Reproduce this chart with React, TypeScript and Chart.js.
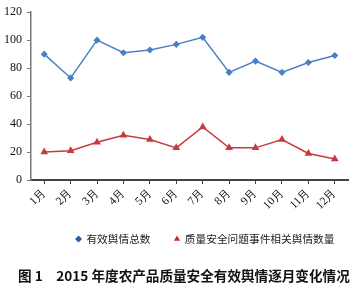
import React, { useEffect, useRef } from "react";
import { Chart, registerables } from "chart.js";
Chart.register(...registerables);

const months = ["1月", "2月", "3月", "4月", "5月", "6月", "7月", "8月", "9月", "10月", "11月", "12月"];
const totalSentiment = [90, 73, 100, 91, 93, 97, 102, 77, 85, 77, 84, 89];
const safetyIssues = [20, 21, 27, 32, 29, 23, 38, 23, 23, 29, 19, 15];
const seriesNames = ["有效舆情总数", "质量安全问题事件相关舆情数量"];
const figureTitle = "图 1　2015 年度农产品质量安全有效舆情逐月变化情况";
const yMax = 120;
const yStep = 20;

export default function App() {
  const ref = useRef<HTMLCanvasElement | null>(null);
  useEffect(() => {
    if (!ref.current) return;
    const blue = "#4a7fc6";
    const red = "#c63b3d";
    const legendColors = ["#2c5fae", "#d4212b"];
    const placeBoxes = {
      id: "placeBoxes",
      afterLayout(c: any) {
        if (c.titleBlock) {
          c.titleBlock.left = 18;
          c.titleBlock.right = 363;
        }
        if (c.legend) {
          c.legend.right = 358.5;
        }
      },
    };
    const chart = new Chart(ref.current, {
      type: "line",
      data: {
        labels: months,
        datasets: [
          {
            label: seriesNames[0],
            data: totalSentiment,
            borderColor: blue,
            backgroundColor: blue,
            borderWidth: 1.5,
            pointStyle: "rectRot",
            pointRadius: 2.5,
            tension: 0,
          },
          {
            label: seriesNames[1],
            data: safetyIssues,
            borderColor: red,
            backgroundColor: red,
            borderWidth: 1.5,
            pointStyle: "triangle",
            pointRadius: 3,
            tension: 0,
          },
        ],
      },
      plugins: [placeBoxes],
      options: {
        animation: false,
        responsive: false,
        layout: { padding: { left: 0, right: 15, top: 3, bottom: 0 } },
        plugins: {
          tooltip: { enabled: false },
          legend: {
            position: "bottom",
            align: "end",
            labels: {
              usePointStyle: true,
              boxWidth: 5,
              boxHeight: 5,
              padding: 24,
              color: "#222",
              font: { family: "'Noto Sans CJK SC', sans-serif", size: 10.7 },
              generateLabels: (c: any) =>
                (Chart.defaults.plugins.legend.labels.generateLabels as any)(c).map((l: any, i: number) => ({
                  ...l,
                  fillStyle: legendColors[i],
                  strokeStyle: legendColors[i],
                  lineWidth: 0,
                })),
            },
          },
          title: {
            display: true,
            position: "bottom",
            align: "start",
            text: figureTitle,
            color: "#111",
            padding: { top: 13.2, bottom: 5.1 },
            font: { family: "'Noto Sans CJK SC', sans-serif", size: 13.6, weight: "bold" },
          },
        },
        scales: {
          x: {
            offset: true,
            afterFit: (s: any) => {
              s.height = 29.65;
            },
            grid: { drawOnChartArea: false, drawTicks: true, tickLength: 4, color: "#444" },
            border: { color: "#444", width: 2 },
            ticks: {
              maxRotation: 45,
              minRotation: 45,
              color: "#111",
              padding: 2,
              font: { family: "'Liberation Serif', serif", size: 11.5 },
            },
          },
          y: {
            min: 0,
            max: yMax,
            afterFit: (s: any) => {
              s.width = 31;
            },
            grid: { drawOnChartArea: false, drawTicks: true, tickLength: 4, color: "#777" },
            border: { color: "#777", width: 1.5 },
            ticks: {
              stepSize: yStep,
              color: "#111",
              padding: 5,
              font: { family: "'Liberation Serif', serif", size: 12 },
            },
          },
        },
      },
    });
    return () => chart.destroy();
  }, []);
  return (
    <div style={{ position: "fixed", left: 0, top: 0, width: 363, height: 289, background: "#fff" }}>
      <canvas ref={ref} width={363} height={289} style={{ width: 363, height: 289 }} />
    </div>
  );
}
